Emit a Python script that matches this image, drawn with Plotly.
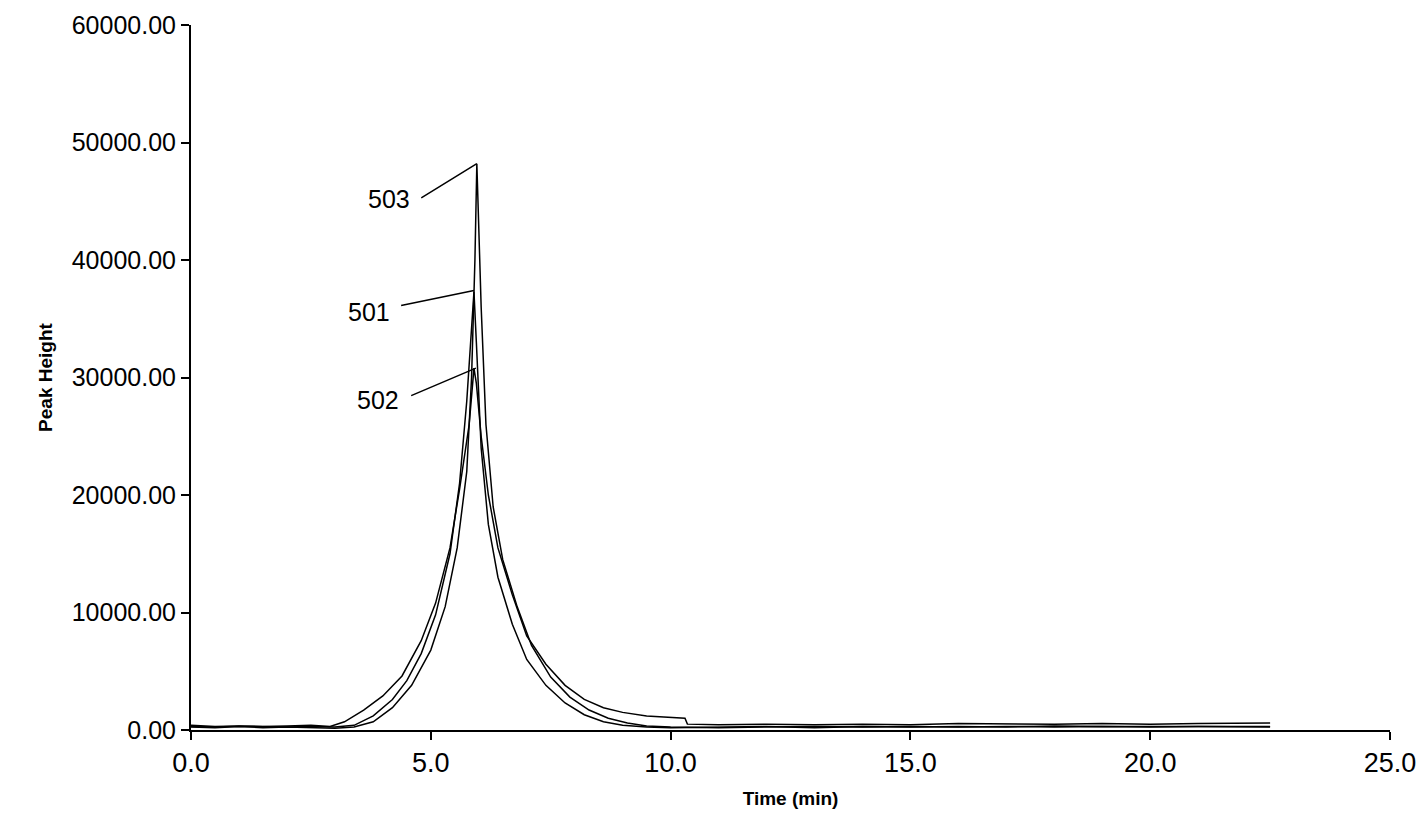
import plotly.graph_objects as go

# Series data (time in min, peak height)
t_501 = [0.0, 0.5, 1.0, 1.5, 2.0, 2.5, 3.0, 3.4, 3.8, 4.2, 4.5, 4.8, 5.1, 5.4, 5.6, 5.75, 5.85, 5.9, 5.95, 6.05, 6.2, 6.4, 6.7, 7.0, 7.4, 7.8, 8.2, 8.6, 9.0, 9.5, 10.0, 11, 12, 13, 14, 15, 16, 17, 18, 19, 20, 21, 22.5]
y_501 = [300, 250, 320, 280, 250, 300, 250, 400, 1200, 2600, 4200, 6500, 9800, 15000, 21000, 28000, 34000, 37300, 33000, 24000, 17500, 13000, 9000, 6000, 3800, 2300, 1300, 700, 400, 250, 200, 250, 300, 200, 300, 250, 300, 250, 350, 300, 300, 350, 300]

t_502 = [0.0, 0.5, 1.0, 1.5, 2.0, 2.5, 2.9, 3.2, 3.6, 4.0, 4.4, 4.8, 5.1, 5.4, 5.6, 5.8, 5.9, 5.95, 6.05, 6.2, 6.4, 6.7, 7.0, 7.4, 7.8, 8.2, 8.6, 9.0, 9.5, 10.0, 10.3, 10.35, 11, 12, 13, 14, 15, 16, 17, 18, 19, 20, 21, 22.5]
y_502 = [400, 300, 350, 300, 350, 400, 300, 700, 1700, 2900, 4600, 7600, 10800, 15500, 20500, 26000, 30800, 29500, 25000, 20000, 15500, 11500, 8000, 5600, 3800, 2600, 1900, 1500, 1200, 1050, 1000, 500, 450, 500, 450, 500, 450, 550, 500, 500, 550, 500, 550, 600]

t_503 = [0.0, 0.5, 1.0, 1.5, 2.0, 2.5, 3.0, 3.4, 3.8, 4.2, 4.6, 5.0, 5.3, 5.55, 5.75, 5.85, 5.92, 5.96, 6.05, 6.15, 6.3, 6.5, 6.8, 7.1, 7.5, 7.9, 8.3, 8.7, 9.1, 9.5, 10.0, 11, 12, 13, 14, 15, 16, 17, 18, 19, 20, 21, 22.5]
y_503 = [250, 200, 300, 200, 250, 200, 150, 250, 700, 1900, 3800, 6800, 10500, 15500, 22000, 30000, 40000, 48200, 36000, 26000, 19000, 14500, 10500, 7200, 4500, 2800, 1700, 1000, 600, 350, 250, 200, 250, 300, 250, 300, 250, 300, 250, 300, 250, 300, 250]

labels = ["503", "501", "502"]
label_pos = [(4.12, 45200), (3.72, 35600), (3.9, 28100)]
leader_tail = [(4.77, 45200), (4.35, 36100), (4.56, 28400)]
leader_head = [(5.96, 48200), (5.9, 37400), (5.94, 30800)]

x_ticks = [0, 5, 10, 15, 20, 25]
y_ticks = [0, 10000, 20000, 30000, 40000, 50000, 60000]

fig = go.Figure()
for t, y in [(t_501, y_501), (t_502, y_502), (t_503, y_503)]:
    fig.add_trace(go.Scatter(x=t, y=y, mode="lines", line=dict(color="black", width=1.5), showlegend=False))

for lab, (lx, ly), (tx, ty), (hx, hy) in zip(labels, label_pos, leader_tail, leader_head):
    fig.add_annotation(x=hx, y=hy, ax=tx, ay=ty, axref="x", ayref="y", xref="x", yref="y",
                       text="", showarrow=True, arrowhead=0, arrowwidth=1.5, arrowcolor="black")
    fig.add_annotation(x=lx, y=ly, text=lab, showarrow=False,
                       font=dict(family="Liberation Sans, Arial", size=25, color="black"))

fig.update_layout(
    width=1424, height=834, plot_bgcolor="white", paper_bgcolor="white",
    margin=dict(l=183, r=42, t=17, b=112),
    font=dict(family="Liberation Sans, Arial", color="black"),
)
fig.update_xaxes(range=[0, 25], tickvals=x_ticks, ticktext=[f"{v:.1f}" for v in x_ticks],
                 showgrid=False, zeroline=False, showline=True, linecolor="black", linewidth=2,
                 ticks="outside", ticklen=8, tickwidth=2, tickcolor="black", automargin=False,
                 tickfont=dict(size=27), ticklabeloverflow="allow",
                 title=dict(text="<b>Time (min)</b>", font=dict(size=19), standoff=14))
fig.update_yaxes(range=[0, 60000], tickvals=y_ticks, ticktext=[f"{v:.2f}" for v in y_ticks],
                 showgrid=False, zeroline=False, showline=True, linecolor="black", linewidth=2,
                 ticks="outside", ticklen=8, tickwidth=2, tickcolor="black", automargin=False,
                 tickfont=dict(size=25), ticklabeloverflow="allow",
                 title=dict(text="<b>Peak Height</b>", font=dict(size=19), standoff=14))

fig.write_html("out.html")
